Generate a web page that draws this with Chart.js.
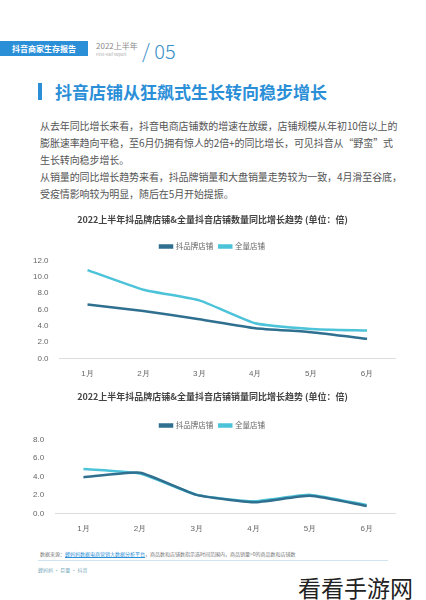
<!DOCTYPE html><html><head><meta charset="utf-8">
<script src="https://cdn.jsdelivr.net/npm/chart.js@4"></script>
<style>
body{margin:0;width:426px;height:600px;background:#fff;position:relative;overflow:hidden;font-family:"Noto Sans CJK SC","Noto Sans",sans-serif;}
.a{position:absolute;white-space:nowrap}
</style></head><body>
<div class="a" style="left:0;top:41px;width:88px;height:15px;background:#2b8fd8;color:#fff;font-size:8px;line-height:15px;text-align:center;font-weight:bold">抖音商家生存报告</div>
<div class="a" style="left:96px;top:40px;font-size:8px;color:#888">2022上半年</div>
<div class="a" style="left:96px;top:51px;font-size:4px;color:#aaa">First-Half Report</div>
<div class="a" style="left:142px;top:36px;font-size:20px;color:#3a8fc8;font-weight:300">/ 05</div>
<div class="a" style="left:38px;top:83px;width:4px;height:17px;background:#2b8fd8"></div>
<div class="a" style="left:55px;top:79px;font-size:17px;color:#2b8fd8;font-weight:bold">抖音店铺从狂飙式生长转向稳步增长</div>
<div class="a" style="left:40px;top:117px;font-size:10px;color:#555;line-height:17px;letter-spacing:-0.1px">从去年同比增长来看，抖音电商店铺数的增速在放缓，店铺规模从年初10倍以上的<br>膨胀速率趋向平稳，至6月仍拥有惊人的2倍+的同比增长，可见抖音从“野蛮”式<br>生长转向稳步增长。<br>从销量的同比增长趋势来看，抖品牌销量和大盘销量走势较为一致，4月滑至谷底，<br>受疫情影响较为明显，随后在5月开始提振。</div>
<div class="a" style="left:25px;top:212px;width:375px;height:170px"><canvas id="c1"></canvas></div>
<div class="a" style="left:25px;top:389px;width:375px;height:148px"><canvas id="c2"></canvas></div>
<div class="a" style="left:40px;top:550px;font-size:5px;color:#777">数据来源：<u style="color:#2b8fd8">蝉妈妈数据电商营销大数据分析平台</u>，商品数和店铺数指示选时间范围内，商品销量&gt;0的商品数和店铺数</div>
<div class="a" style="left:38px;top:560px;width:350px;height:1px;background:#cfe3f0"></div>
<div class="a" style="left:38px;top:566px;font-size:5px;color:#7ab">蝉妈妈 · 巨量 · 抖音</div>
<div class="a" style="left:298px;top:570px;font-size:23px;color:#222">看看手游网</div>
<script>
const months=["1月","2月","3月","4月","5月","6月"];
const brandShops=[6.6,5.8,4.8,3.7,3.2,2.4];
const allShops=[10.8,8.4,7.1,4.3,3.6,3.4];
const brandSales=[3.9,4.4,2.0,1.2,1.9,0.8];
const allSales=[4.8,4.3,2.0,1.3,2.0,0.9];
const dark="#2f6f8f",light="#4cc3d8";
function mk(id,title,b,a,max,step,pb){
new Chart(document.getElementById(id),{type:"line",
data:{labels:months,datasets:[
{label:"抖品牌店铺",data:b,borderColor:dark,backgroundColor:dark,borderWidth:2.5,pointRadius:0,tension:0.15},
{label:"全量店铺",data:a,borderColor:light,backgroundColor:light,borderWidth:2.5,pointRadius:0,tension:0.15}]},
options:{responsive:true,maintainAspectRatio:false,animation:false,
layout:{padding:{left:5,right:5}},
plugins:{title:{display:true,text:title,color:"#444",font:{size:9,weight:"bold",family:"Noto Sans CJK SC"},padding:{top:2,bottom:pb}},
legend:{labels:{boxWidth:12,boxHeight:2,padding:6,color:"#666",font:{size:7.5,family:"Noto Sans CJK SC"}}}},
scales:{x:{offset:true,grid:{display:false},border:{color:"#ddd"},ticks:{color:"#666",font:{size:8}}},
y:{min:0,max:max,ticks:{stepSize:step,color:"#666",font:{size:8},callback:v=>v.toFixed(1)},grid:{display:false},border:{display:false}}}}});}
mk("c1",["2022上半年抖品牌店铺&全量抖音店铺数量同比增长趋势 (单位：倍)"],brandShops,allShops,12,2,12);
mk("c2",["2022上半年抖品牌店铺&全量抖音店铺销量同比增长趋势 (单位：倍)"],brandSales,allSales,8,2,14);
</script></body></html>
